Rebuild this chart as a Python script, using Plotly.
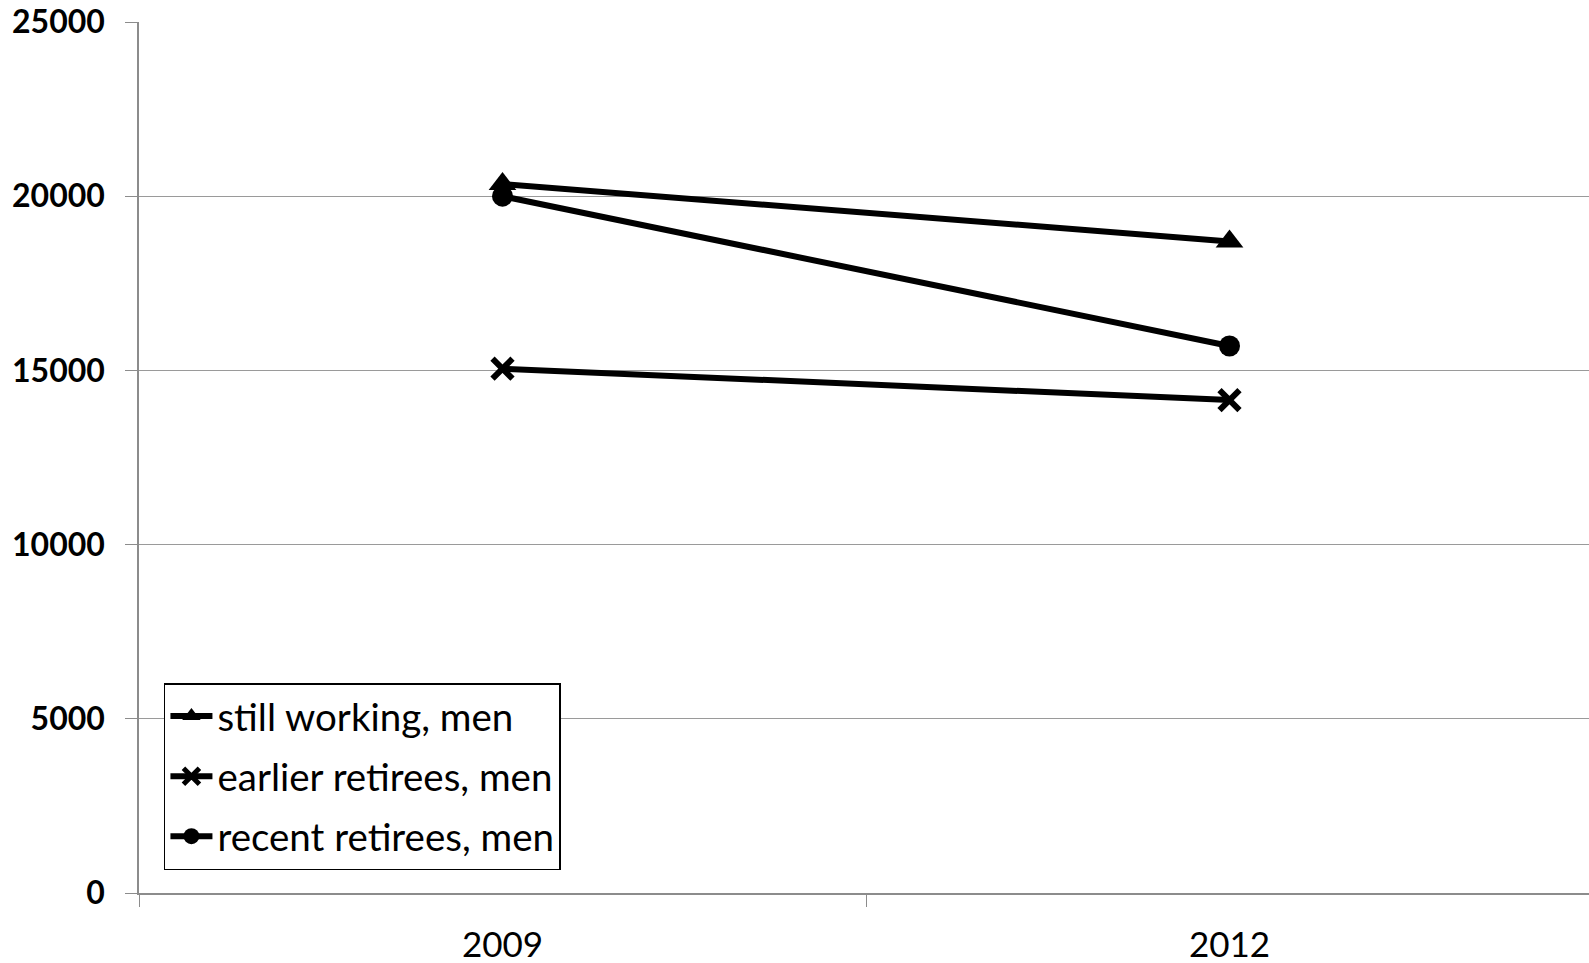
import plotly.graph_objects as go

years = ["2009", "2012"]
still_working = [20350, 18700]
earlier_retirees = [15050, 14150]
recent_retirees = [20000, 15700]
y_ticks = [0, 5000, 10000, 15000, 20000, 25000]

fig = go.Figure()
series = [
    ("still working, men", still_working, "triangle-up", 24, 0),
    ("earlier retirees, men", earlier_retirees, "x-thin", 20, 6),
    ("recent retirees, men", recent_retirees, "circle", 21, 0),
]
for i, (name, vals, sym, sz, lw) in enumerate(series):
    fig.add_trace(go.Scatter(
        x=years, y=vals, name=name, mode="lines+markers",
        legendgroup=f"g{i}",
        line=dict(color="black", width=6),
        marker=dict(symbol=sym, size=sz, color="black", line=dict(width=lw, color="black")),
    ))

fig.update_layout(
    width=1589, height=963,
    margin=dict(l=139, r=0, t=22, b=70),
    paper_bgcolor="white", plot_bgcolor="white",
    font=dict(family="Lato, Open Sans, sans-serif", color="black"),
    showlegend=True,
    legend=dict(
        x=0.0172, y=0.241, xanchor="left", yanchor="top",
        bordercolor="black", borderwidth=1.5, bgcolor="white",
        font=dict(size=38.5, family="Lato"),
        tracegroupgap=7, itemwidth=42,
    ),
    xaxis=dict(
        type="category", range=[-0.5, 1.4945], automargin=False,
        tickson="boundaries", ticks="outside", ticklen=12, tickcolor="#8c8c8c",
        showgrid=False, showline=True, linecolor="#8c8c8c", linewidth=1.5,
        tickfont=dict(size=35, family="Lato"), zeroline=False,
        ticklabelstandoff=20,
    ),
    yaxis=dict(
        range=[0, 25000], tickvals=y_ticks, ticktext=[str(v) for v in y_ticks],
        automargin=False,
        ticks="outside", ticklen=12, tickcolor="#8c8c8c",
        showgrid=True, gridcolor="#9a9a9a", gridwidth=1,
        showline=True, linecolor="#8c8c8c", linewidth=1.5,
        tickfont=dict(size=32, family="Lato", weight="bold"), zeroline=False,
        ticklabelstandoff=14,
    ),
)

fig.write_html("out.html")
